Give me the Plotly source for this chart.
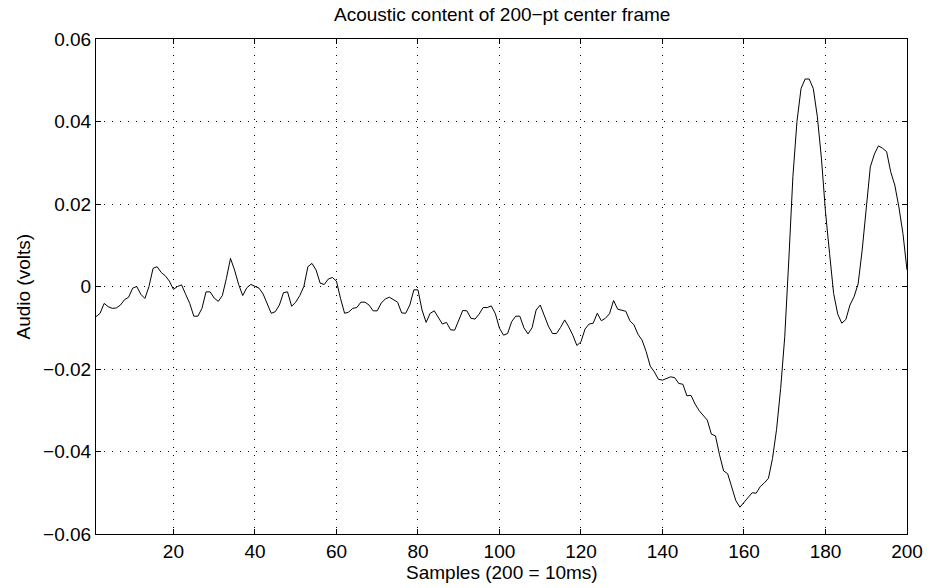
import plotly.graph_objects as go

# 200-sample audio frame (volts), sample index 1..200
samples = list(range(1, 201))
audio = [
    -0.0073, -0.0065, -0.0041, -0.0049, -0.0053, -0.0052, -0.0045, -0.0032, -0.0026, -0.0004,
    0.0000, -0.0019, -0.0029, 0.0000, 0.0044, 0.0048, 0.0034, 0.0026, 0.0013, -0.0007,
    0.0000, 0.0004, -0.0019, -0.0041, -0.0072, -0.0072, -0.0053, -0.0013, -0.0013, -0.0028,
    -0.0036, -0.0022, 0.0020, 0.0068, 0.0040, 0.0005, -0.0022, -0.0003, 0.0005, 0.0000,
    -0.0004, -0.0018, -0.0043, -0.0065, -0.0061, -0.0045, -0.0015, -0.0013, -0.0048, -0.0038,
    -0.0022, 0.0000, 0.0048, 0.0056, 0.0040, 0.0008, 0.0005, 0.0018, 0.0022, 0.0013,
    -0.0029, -0.0065, -0.0062, -0.0053, -0.0051, -0.0038, -0.0038, -0.0045, -0.0059, -0.0059,
    -0.0040, -0.0030, -0.0026, -0.0031, -0.0038, -0.0064, -0.0065, -0.0045, -0.0008, -0.0008,
    -0.0057, -0.0087, -0.0065, -0.0059, -0.0075, -0.0091, -0.0087, -0.0105, -0.0106, -0.0081,
    -0.0058, -0.0059, -0.0077, -0.0079, -0.0067, -0.0051, -0.0051, -0.0047, -0.0066, -0.0101,
    -0.0118, -0.0114, -0.0085, -0.0072, -0.0072, -0.0100, -0.0115, -0.0100, -0.0057, -0.0045,
    -0.0071, -0.0096, -0.0114, -0.0114, -0.0099, -0.0081, -0.0098, -0.0118, -0.0143, -0.0134,
    -0.0103, -0.0091, -0.0089, -0.0065, -0.0083, -0.0077, -0.0066, -0.0034, -0.0055, -0.0057,
    -0.0060, -0.0083, -0.0093, -0.0116, -0.0130, -0.0158, -0.0193, -0.0207, -0.0225, -0.0227,
    -0.0222, -0.0219, -0.0221, -0.0235, -0.0237, -0.0265, -0.0264, -0.0285, -0.0301, -0.0313,
    -0.0324, -0.0358, -0.0362, -0.0408, -0.0447, -0.0454, -0.0485, -0.0519, -0.0535, -0.0523,
    -0.0512, -0.0500, -0.0501, -0.0485, -0.0476, -0.0465, -0.0417, -0.0346, -0.0247, -0.0122,
    0.0064, 0.0266, 0.0400, 0.0480, 0.0503, 0.0503, 0.0480, 0.0412, 0.0311, 0.0181,
    0.0080, -0.0017, -0.0067, -0.0089, -0.0080, -0.0045, -0.0025, 0.0006, 0.0088, 0.0198,
    0.0290, 0.0321, 0.0341, 0.0335, 0.0327, 0.0278, 0.0246, 0.0193, 0.0129, 0.0040,
]

x_ticks = [20, 40, 60, 80, 100, 120, 140, 160, 180, 200]
y_ticks = [-0.06, -0.04, -0.02, 0, 0.02, 0.04, 0.06]
y_tick_labels = ["\u22120.06", "\u22120.04", "\u22120.02", "0", "0.02", "0.04", "0.06"]

title_text = "Acoustic content of 200\u2212pt center frame"
x_label = "Samples (200 = 10ms)"
y_label = "Audio (volts)"

FONT = "Helvetica, 'Liberation Sans', Arial, sans-serif"
FS = 19

fig = go.Figure(
    go.Scatter(
        x=samples,
        y=audio,
        mode="lines",
        line=dict(color="black", width=1),
        hoverinfo="x+y",
    )
)

axis_common = dict(
    showline=True,
    linecolor="black",
    linewidth=1,
    mirror="ticks",
    ticks="inside",
    ticklen=5,
    tickcolor="black",
    showgrid=True,
    gridcolor="black",
    gridwidth=1,
    griddash="1px,7px",
    zeroline=False,
    tickfont=dict(family=FONT, size=FS, color="black"),
)

fig.update_xaxes(
    range=[1, 200],
    tickvals=x_ticks,
    ticktext=[str(v) for v in x_ticks],
    **axis_common,
)
fig.update_yaxes(
    range=[-0.06, 0.06],
    tickvals=y_ticks,
    ticktext=y_tick_labels,
    **axis_common,
)

label_font = dict(family=FONT, size=FS, color="black")
fig.update_layout(
    width=935,
    height=588,
    margin=dict(l=96, r=20, t=39, b=54),
    paper_bgcolor="white",
    plot_bgcolor="white",
    showlegend=False,
    annotations=[
        dict(text=title_text, xref="paper", yref="paper", x=0.5, y=1,
             xanchor="center", yanchor="middle", yshift=25, showarrow=False, font=label_font),
        dict(text=x_label, xref="paper", yref="paper", x=0.5, y=0,
             xanchor="center", yanchor="middle", yshift=-38, showarrow=False, font=label_font),
        dict(text=y_label, xref="paper", yref="paper", x=0, y=0.5, textangle=-90,
             xanchor="center", yanchor="middle", xshift=-73, showarrow=False, font=label_font),
    ],
)

fig.write_html("out.html")
